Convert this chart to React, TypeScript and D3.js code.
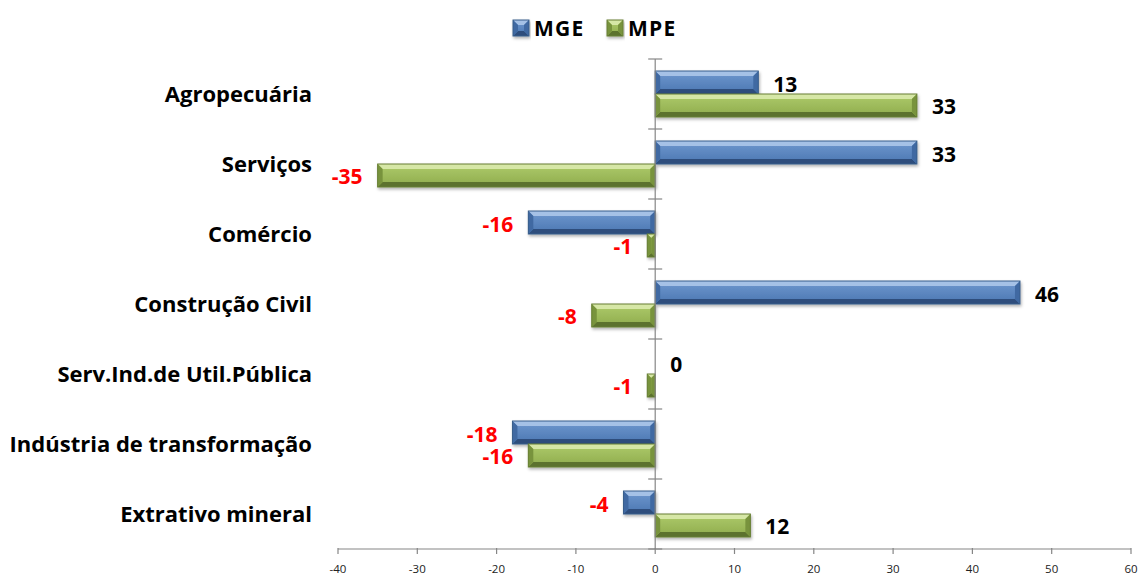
import React from 'react'
import * as d3 from 'd3'

const categories = [
  'Agropecuária',
  'Serviços',
  'Comércio',
  'Construção Civil',
  'Serv.Ind.de Util.Pública',
  'Indústria de transformação',
  'Extrativo mineral',
]
const seriesNames = ['MGE', 'MPE']
const mgeValues = [13, 33, -16, 46, 0, -18, -4]
const mpeValues = [33, -35, -1, -8, -1, -16, 12]
const xTicks = [-40, -30, -20, -10, 0, 10, 20, 30, 40, 50, 60]

const W = 1142
const H = 576
const FONT = '"Open Sans", "Noto Sans", sans-serif'

const palette: Record<string, { top: string; faceA: string; faceB: string; bottom: string; side: string; edge: string }> = {
  MGE: { top: '#a5c1e6', faceA: '#6f98cf', faceB: '#4a76b1', bottom: '#2d4e7c', side: '#3f69a2', edge: '#385d8a' },
  MPE: { top: '#d6e7a6', faceA: '#aecb6b', faceB: '#8eab4c', bottom: '#5b722f', side: '#78933c', edge: '#677f34' },
}

const BevelBar: React.FC<{ x0: number; x1: number; y0: number; h: number; name: string }> = ({ x0, x1, y0, h, name }) => {
  const w = x1 - x0
  if (w <= 0.5) return null
  const c = palette[name]
  const b = Math.min(5, w / 2, h / 2)
  const y1 = y0 + h
  const pts = (arr: number[][]) => arr.map(p => p.join(',')).join(' ')
  return (
    <g filter="url(#shadow)">
      <rect x={x0} y={y0} width={w} height={h} fill={`url(#face-${name})`} />
      <polygon points={pts([[x0, y0], [x1, y0], [x1 - b, y0 + b], [x0 + b, y0 + b]])} fill={c.top} />
      <polygon points={pts([[x0, y1], [x1, y1], [x1 - b, y1 - b], [x0 + b, y1 - b]])} fill={c.bottom} />
      <polygon points={pts([[x0, y0], [x0 + b, y0 + b], [x0 + b, y1 - b], [x0, y1]])} fill={c.side} />
      <polygon points={pts([[x1, y0], [x1 - b, y0 + b], [x1 - b, y1 - b], [x1, y1]])} fill={c.side} />
      <rect x={x0} y={y0} width={w} height={h} fill="none" stroke={c.edge} strokeWidth={1} />
    </g>
  )
}

export default function App() {
  const x = d3.scaleLinear().domain([-40, 60]).range([338, 1131])
  const y = d3.scaleBand<string>().domain(categories).range([59, 549]).paddingInner(0.343).paddingOuter(0.1715)
  const inner = d3.scaleBand<string>().domain(seriesNames).range([0, y.bandwidth()])
  const gap = (y.step() - y.bandwidth()) / 2
  const boundaries = categories.map(c => (y(c) as number) - gap).concat([549])
  const axisY = 549
  const zeroX = x(0)

  const rows = categories.map((c, i) => ({ cat: c, vals: [mgeValues[i], mpeValues[i]] }))

  return (
    <svg width={W} height={H} style={{ position: 'absolute', left: 0, top: 0, background: '#fff' }}>
      <defs>
        {seriesNames.map(n => (
          <linearGradient key={n} id={`face-${n}`} x1="0" y1="0" x2="0" y2="1">
            <stop offset="0%" stopColor={palette[n].faceA} />
            <stop offset="100%" stopColor={palette[n].faceB} />
          </linearGradient>
        ))}
        <filter id="shadow" x="-10%" y="-30%" width="120%" height="170%">
          <feDropShadow dx="1" dy="2" stdDeviation="1.5" floodColor="#000" floodOpacity="0.3" />
        </filter>
      </defs>

      {/* legend */}
      {seriesNames.map((n, i) => {
        const lx = 513 + i * 94
        return (
          <g key={n}>
            <BevelBar x0={lx} x1={lx + 16} y0={20} h={16} name={n} />
            <text x={lx + 21} y={35.5} fontFamily={FONT} fontWeight="bold" fontSize={21} letterSpacing={1.2} fill="#000">{n}</text>
          </g>
        )
      })}

      {/* bars */}
      {rows.map(r => (
        <g key={r.cat}>
          {r.vals.map((v, j) => {
            const n = seriesNames[j]
            const by = (y(r.cat) as number) + (inner(n) as number)
            const bh = inner.bandwidth()
            return (
              <BevelBar key={n} x0={Math.min(x(0), x(v))} x1={Math.max(x(0), x(v))} y0={by} h={bh} name={n} />
            )
          })}
        </g>
      ))}

      {/* axes */}
      <line x1={zeroX} x2={zeroX} y1={59} y2={axisY} stroke="#868686" strokeWidth={1.2} />
      {boundaries.map((b, i) => (
        <line key={i} x1={zeroX - 7} x2={zeroX + 7} y1={b} y2={b} stroke="#868686" strokeWidth={1.2} />
      ))}
      <line x1={x(-40)} x2={x(60)} y1={axisY} y2={axisY} stroke="#868686" strokeWidth={1.2} />
      {xTicks.map(t => (
        <g key={t}>
          <line x1={x(t)} x2={x(t)} y1={axisY - 1} y2={axisY + 5} stroke="#868686" strokeWidth={1.2} />
          <text x={x(t)} y={axisY + 24} textAnchor="middle" fontFamily={FONT} fontSize={11.5} fill="#222">{t}</text>
        </g>
      ))}

      {/* category labels */}
      {categories.map(c => (
        <text key={c} x={312} y={(y(c) as number) + y.bandwidth() / 2 + 8} textAnchor="end"
          fontFamily={FONT} fontWeight="bold" fontSize={22} fill="#000">{c}</text>
      ))}

      {/* value labels */}
      {rows.map(r => r.vals.map((v, j) => {
        const n = seriesNames[j]
        const cy = (y(r.cat) as number) + (inner(n) as number) + inner.bandwidth() / 2 + 9
        const neg = v < 0
        return (
          <text key={r.cat + n} x={neg ? x(v) - 15 : x(v) + 15} y={cy} textAnchor={neg ? 'end' : 'start'}
            fontFamily={FONT} fontWeight="bold" fontSize={21} fill={neg ? '#ff0000' : '#000'}>{v}</text>
        )
      }))}
    </svg>
  )
}
